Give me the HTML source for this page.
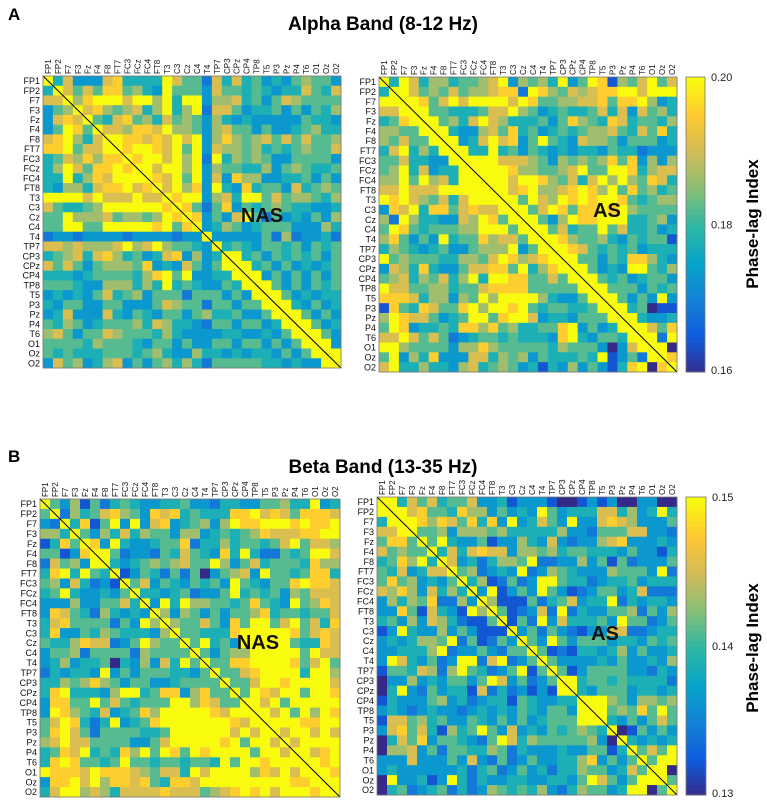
<!DOCTYPE html>
<html><head><meta charset="utf-8">
<style>
html,body{margin:0;padding:0;background:#fff;}
body{width:767px;height:800px;overflow:hidden;font-family:"Liberation Sans",sans-serif;}
svg{display:block;}
</style></head>
<body>
<svg id="fig" width="767" height="800" viewBox="0 0 767 800" xmlns="http://www.w3.org/2000/svg" font-family="Liberation Sans, sans-serif">
<text x="8" y="20" font-size="17" font-weight="bold">A</text>
<text x="383" y="30" font-size="19" font-weight="bold" text-anchor="middle">Alpha Band (8-12 Hz)</text>
<text x="8" y="462" font-size="17" font-weight="bold">B</text>
<text x="383" y="473" font-size="19" font-weight="bold" text-anchor="middle">Beta Band (13-35 Hz)</text>
<g id="layer"></g>
</svg>
<script>
const channels = ["FP1","FP2","F7","F3","Fz","F4","F8","FT7","FC3","FCz","FC4","FT8","T3","C3","Cz","C4","T4","TP7","CP3","CPz","CP4","TP8","T5","P3","Pz","P4","T6","O1","Oz","O2"];
// Upper-triangle rows (starting at diagonal), digit level 0..9 within colour range
const alphaNAS = [
"947333784444975527474534356553",
"97575885643955537554543447547",
"9689997996949936674535765555",
"978656746946927753445353546",
"95478564756536434333335443",
"9776887966536755353345644",
"998878797936865675757556",
"98998795937665645456557",
"9899796929465653355553",
"997996936554463565445",
"98795937386633445353",
"9796839438455374565",
"989936749957566546",
"98525835456544334",
"9835379525343536",
"934653455533364",
"93333352623342",
"9454355453545",
"994535454535",
"99453534345",
"9935353535",
"995353545",
"99534344",
"9943534",
"995353",
"99534",
"9953",
"993",
"99",
"9"];
const alphaAS = [
"949746645567936564935981657957",
"99756575667882986576788997999",
"9985797999979855667785889634",
"995544457796534544574737564",
"99564797644453586548745546",
"9943367584534545667547584",
"993479783595437665355534",
"99449453543434435442333",
"9999777653656568583636",
"999986655679559984677",
"99979986574796965874",
"9978966789869585645",
"995976989899854566",
"99579858898965555",
"9953698899944563",
"995745595744534",
"99865564354551",
"9987545453444",
"995535488643",
"99534399546",
"9954534553",
"995553545",
"99535393",
"9945011",
"994334",
"99758",
"9929",
"990",
"98",
"9"];
const betaNAS = [
"953615245433445332443355644934",
"92645786538784544488978758887",
"9481593937834563698899989889",
"953647465536634545687778899",
"98394334558244645545795776",
"9952332547543849422545997",
"943456567559635745554866",
"91354252503567395545884",
"9573543545395435589887",
"944345233594545365777",
"93949665545854395687",
"9636535355684554557",
"965575385995795748",
"95544489999985787",
"9594539999954487",
"953566999995977",
"95588999985795",
"9557899994996",
"955799899997",
"95987995998",
"9979599999",
"997959698",
"99998899",
"9799797",
"979999",
"99789",
"9989",
"998",
"99",
"9"];
const betaAS = [
"994757455733413331001313003300",
"99785548663534395344477463494",
"9986875848393475393378763335",
"955636665644444633255577332",
"95943351336437323367833343",
"9474787736656455444353314",
"973424665922336351523335",
"95623439236543336555392",
"9461252399544234453444",
"939135395312355347222",
"96111524573449243443",
"9512372924335562536",
"915293744453955235",
"93525321337722344",
"9539535553443545",
"951214434635334",
"95333343533436",
"9513555533243",
"994554544442",
"94355534434",
"9996536656",
"995658595",
"94353575",
"9015353",
"943434",
"95759",
"9599",
"990",
"95",
"9"];
const alphaRange = [0.16, 0.20];
const betaRange = [0.13, 0.15];
const alphaTicks = ["0.20","0.18","0.16"];
const betaTicks = ["0.15","0.14","0.13"];

const NS="http://www.w3.org/2000/svg";
const layer=document.getElementById('layer');
function mk(tag,attrs,parent){const e=document.createElementNS(NS,tag);for(const k in attrs)e.setAttribute(k,attrs[k]);(parent||layer).appendChild(e);return e;}
const stops=[[0,[53,42,135]],[0.125,[15,92,221]],[0.25,[20,129,214]],[0.375,[6,164,202]],[0.5,[46,183,164]],[0.625,[135,191,119]],[0.75,[209,187,89]],[0.875,[254,200,50]],[1,[249,251,14]]];
function parula(t){t=Math.max(0,Math.min(1,t));for(let i=1;i<stops.length;i++){if(t<=stops[i][0]){const a=stops[i-1],b=stops[i];const f=(t-a[0])/(b[0]-a[0]);const c=a[1].map((v,k)=>Math.round(v+(b[1][k]-v)*f));return `rgb(${c[0]},${c[1]},${c[2]})`;}}return 'rgb(249,251,14)';}
function buildMatrix(rows,range){
  const n=channels.length;const M=[];
  for(let i=0;i<n;i++){M.push(new Array(n).fill(range[0]+(range[1]-range[0])*4/9));}
  for(let i=0;i<n;i++){const s=rows[i]||"";for(let j=i;j<n;j++){const ch=s[j-i];const d=(ch===undefined)?4:+ch;const v=range[0]+(range[1]-range[0])*d/9;M[i][j]=v;M[j][i]=v;}}
  return M;
}
function heatmap(name,rows,range,x0,y0,w,h,label,lx,ly){
  const g=mk('g',{});
  
  
  const n=channels.length;const M=buildMatrix(rows,range);
  const xs=j=>x0+j*w/n, ys=i=>y0+i*h/n;
  const col=v=>parula((v-range[0])/(range[1]-range[0]));
  for(let i=0;i<n;i++)for(let j=0;j<n;j++){
    const r=mk('rect',{x:xs(j).toFixed(2),y:ys(i).toFixed(2),width:(w/n+0.4).toFixed(2),height:(h/n+0.4).toFixed(2),fill:col(M[i][j])},g);
    
    
  }
  const diag=mk('line',{x1:x0,y1:y0,x2:x0+w,y2:y0+h,stroke:'#000','stroke-width':1},g);
  
  
  const box=mk('rect',{x:x0,y:y0,width:w,height:h,fill:'none',stroke:'#777','stroke-width':0.8},g);
  
  
  for(let i=0;i<n;i++){
    const t=mk('text',{x:x0-3,y:(ys(i)+h/n/2+3.2).toFixed(1),'font-size':9,'text-anchor':'end',fill:'#111'},g);
    t.textContent=channels[i];
    
    
    const cx=(xs(i)+w/n/2+3).toFixed(1);
    const c=mk('text',{x:cx,y:y0-2,'font-size':8,transform:`rotate(-90 ${cx} ${y0-2})`,fill:'#111'},g);
    c.textContent=channels[i];
    
    
  }
  const lt=mk('text',{x:lx,y:ly,'font-size':20,'font-weight':'bold','text-anchor':'middle',fill:'#111'},g);
  lt.textContent=label;
  
  
}
function colorbar(name,ticks,x,y,w,h,titleY){
  const g=mk('g',{});
  
  
  const steps=60;
  for(let k=0;k<steps;k++){
    const r=mk('rect',{x:x,y:(y+h*k/steps).toFixed(2),width:w,height:(h/steps+0.5).toFixed(2),fill:parula(1-k/steps)},g);
    
    
  }
  const b=mk('rect',{x:x,y:y,width:w,height:h,fill:'none',stroke:'#777','stroke-width':0.8},g);
  
  
  ticks.forEach((tk,k)=>{
    const ty=y+h*k/(ticks.length-1);
    const t=mk('text',{x:x+w+6,y:(ty+(k===0?4:k===ticks.length-1?2:4)).toFixed(1),'font-size':11,fill:'#222'},g);
    t.textContent=tk;
    
    
  });
  const tt=mk('text',{x:758,y:titleY,'font-size':17,'font-weight':'bold','text-anchor':'middle',transform:`rotate(-90 758 ${titleY})`},g);
  tt.textContent='Phase-lag Index';
  
  
}
heatmap('alpha-nas-heatmap',alphaNAS,alphaRange,43,76,298,292,'NAS',262,222);
heatmap('alpha-as-heatmap',alphaAS,alphaRange,379,77,298,295,'AS',607,217);
heatmap('beta-nas-heatmap',betaNAS,betaRange,40,499,300,298,'NAS',258,649);
heatmap('beta-as-heatmap',betaAS,betaRange,377,497,300,298,'AS',605,640);
colorbar('alpha-colorbar',alphaTicks,686,77,19,295,224);
colorbar('beta-colorbar',betaTicks,686,497,20,298,648);
</script>
</body></html>
